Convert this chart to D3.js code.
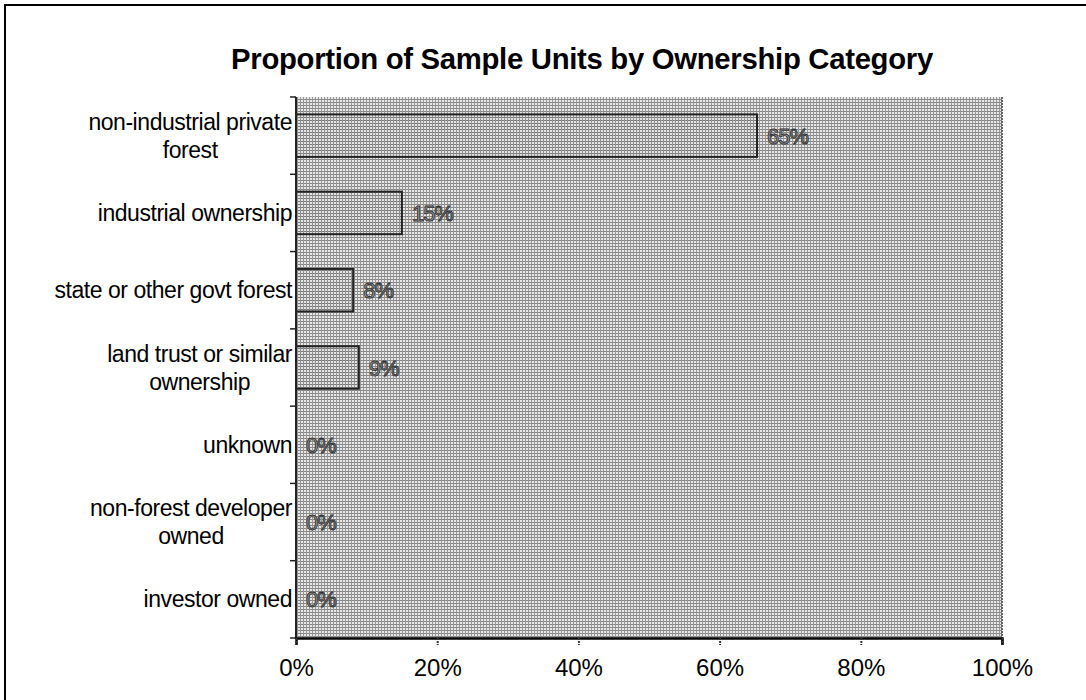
<!DOCTYPE html>
<html><head><meta charset="utf-8">
<script src="https://cdn.jsdelivr.net/npm/d3@7"></script>
<style>body{margin:0;background:#fff}svg{display:block}</style>
</head><body>
<script>
const categories = [
  ["non-industrial private", "forest"],
  ["industrial ownership"],
  ["state or other govt forest"],
  ["land trust or similar", "ownership"],
  ["unknown"],
  ["non-forest developer", "owned"],
  ["investor owned"]
];
const values = [0.653, 0.15, 0.081, 0.089, 0, 0, 0];
const xTicks = [0, 0.2, 0.4, 0.6, 0.8, 1.0];
const title = "Proportion of Sample Units by Ownership Category";

const W = 1086, H = 700;
const m = {left: 296, right: 84, top: 97, bottom: 62};
const svg = d3.select("body").append("svg").attr("width", W).attr("height", H);

const defs = svg.append("defs");
const pat = defs.append("pattern").attr("id", "ht").attr("patternUnits", "userSpaceOnUse")
  .attr("width", 3).attr("height", 3);
pat.append("rect").attr("width", 3).attr("height", 3).attr("fill", "#e8e8e8");
pat.append("rect").attr("width", 3).attr("height", 1).attr("fill", "#858585");
pat.append("rect").attr("width", 1).attr("height", 3).attr("fill", "#959595");

const pat2 = defs.append("pattern").attr("id", "ht2").attr("patternUnits", "userSpaceOnUse")
  .attr("width", 3).attr("height", 3);
pat2.append("rect").attr("width", 3).attr("height", 3).attr("fill", "#e4e4e4");
pat2.append("rect").attr("width", 3).attr("height", 1).attr("fill", "#7a7a7a");
pat2.append("rect").attr("width", 1).attr("height", 3).attr("fill", "#909090");

// frame
svg.append("rect").attr("x", 5).attr("y", 5).attr("width", W + 20).attr("height", H + 20)
  .attr("fill", "none").attr("stroke", "#000").attr("stroke-width", 2);

const x = d3.scaleLinear().domain([0, 1]).range([m.left, W - m.right]);
const y = d3.scaleBand().domain(d3.range(categories.length)).range([m.top, H - m.bottom]).paddingInner(0.45).paddingOuter(0.225);
const yb = d3.scaleBand().domain(d3.range(categories.length)).range([m.top, H - m.bottom]);

// plot area
svg.append("rect").attr("x", x(0)).attr("y", m.top).attr("width", x(1) - x(0)).attr("height", H - m.bottom - m.top)
  .attr("fill", "url(#ht)");
svg.append("line").attr("x1", x(1)).attr("x2", x(1)).attr("y1", m.top).attr("y2", H - m.bottom + 8)
  .attr("stroke", "#333").attr("stroke-width", 1.5).attr("stroke-dasharray", "2,1");

// title
svg.append("text").attr("x", 582).attr("y", 69).attr("text-anchor", "middle")
  .attr("font-family", "Liberation Sans, Arial, sans-serif").attr("font-weight", "bold")
  .attr("font-size", 29.3).attr("letter-spacing", -0.3).attr("fill", "#000").text(title);

// bars
svg.selectAll("rect.bar").data(values).join("rect").attr("class", "bar")
  .attr("x", x(0)).attr("y", (d, i) => y(i))
  .attr("width", d => x(d) - x(0)).attr("height", y.bandwidth())
  .attr("fill", "url(#ht2)").attr("stroke", d => d > 0 ? "#222" : "none").attr("stroke-width", 2);

// value labels
svg.selectAll("text.val").data(values).join("text").attr("class", "val")
  .attr("x", d => x(d) + 10).attr("y", (d, i) => y(i) + y.bandwidth() / 2 + 8)
  .attr("font-family", "Liberation Sans, Arial, sans-serif").attr("font-size", 22)
  .attr("letter-spacing", -1)
  .attr("fill", "#a0a0a0").attr("stroke", "#333").attr("stroke-width", 0.9)
  .text(d => d3.format(".0%")(d));

// y axis
const yAxis = svg.append("g");
yAxis.append("line").attr("x1", x(0)).attr("x2", x(0)).attr("y1", m.top).attr("y2", H - m.bottom)
  .attr("stroke", "#222").attr("stroke-width", 2);
yAxis.selectAll("line.tk").data(d3.range(categories.length + 1)).join("line").attr("class", "tk")
  .attr("x1", x(0) - 6).attr("x2", x(0))
  .attr("y1", i => m.top + i * yb.step()).attr("y2", i => m.top + i * yb.step())
  .attr("stroke", "#222").attr("stroke-width", 1.5);

// category labels
const lab = svg.append("g").attr("font-family", "Liberation Sans, Arial, sans-serif")
  .attr("font-size", 23).attr("fill", "#000").attr("letter-spacing", -0.45);
categories.forEach((lines, i) => {
  const cy = yb(i) + yb.bandwidth() / 2;
  const t = lab.append("text").attr("text-anchor", "middle");
  const spans = lines.map((s, k) => t.append("tspan").text(s));
  const widths = spans.map(s => s.node().getComputedTextLength());
  const w = d3.max(widths);
  const cx = x(0) - 4 - w / 2;
  const lh = 28;
  spans.forEach((s, k) => {
    s.attr("x", cx).attr("y", cy + (k - (lines.length - 1) / 2) * lh + 8);
  });
});

// x axis
const xAxis = svg.append("g").attr("transform", `translate(0,${H - m.bottom})`)
  .call(d3.axisBottom(x).tickValues(xTicks).tickFormat(d3.format(".0%")).tickSize(7).tickPadding(14));
xAxis.select(".domain").attr("stroke", "#000").attr("stroke-width", 2.5);
xAxis.selectAll(".tick line").attr("stroke", "#333").attr("stroke-width", 2).attr("stroke-dasharray", "2,1");
xAxis.selectAll(".tick text").attr("font-family", "Liberation Sans, Arial, sans-serif")
  .attr("font-size", 24).attr("fill", "#000");
</script>
</body></html>
